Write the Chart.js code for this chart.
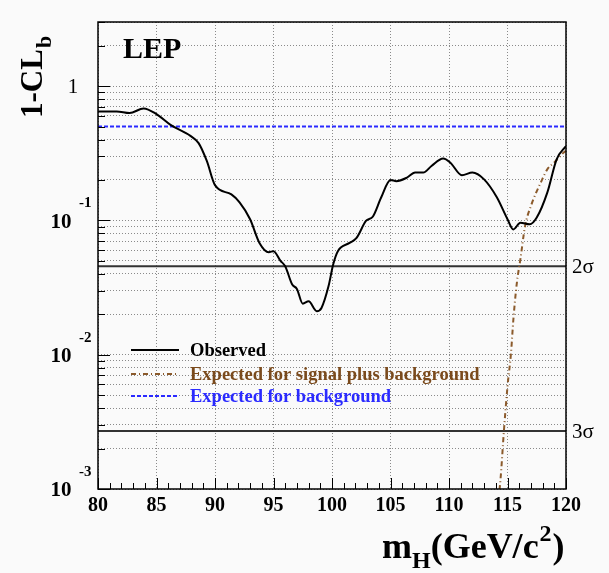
<!DOCTYPE html>
<html>
<head>
<meta charset="utf-8">
<script src="https://cdn.jsdelivr.net/npm/chart.js@4/dist/chart.umd.min.js"></script>
<style>
  html, body { margin: 0; padding: 0; background: #fafafa; }
  #wrap { width: 609px; height: 573px; }
</style>
</head>
<body>
<div id="wrap"><canvas id="chart"></canvas></div>
<script>
// data
const massObs = [80.0, 81.6, 82.7, 83.9, 85.0, 86.2, 87.9, 88.6, 89.3, 90.0, 91.4, 92.1, 93.0, 93.8, 94.6, 95.0,
  95.6, 96.0, 96.6, 97.0, 97.5, 98.0, 98.7, 99.1, 99.7, 100.1, 100.5, 101.5, 102.1, 102.9, 103.5, 104.2, 105.0,
  105.5, 106.4, 107.1, 107.8, 108.5, 109.5, 110.1, 111.1, 112.0, 113.0, 114.1, 115.0, 115.5, 116.1, 116.9,
  117.5, 118.4, 119.2, 120.0];
const clbObs = [0.647, 0.647, 0.629, 0.682, 0.618, 0.514, 0.426, 0.376, 0.277, 0.183, 0.156, 0.136, 0.102, 0.068,
  0.058, 0.059, 0.050, 0.0456, 0.0333, 0.0309, 0.0240, 0.0250, 0.0211, 0.0223, 0.0323, 0.047, 0.059, 0.068,
  0.074, 0.099, 0.107, 0.148, 0.200, 0.196, 0.208, 0.227, 0.227, 0.254, 0.289, 0.270, 0.217, 0.227, 0.202,
  0.148, 0.102, 0.0857, 0.0961, 0.0934, 0.105, 0.161, 0.285, 0.358];

const massSB = [114.2, 114.4, 114.7, 115.0, 115.3, 115.5, 115.8, 116.1, 116.5, 117.0, 117.9, 118.4, 119.0, 119.8, 120.0];
const clbSB = [0.0008, 0.00117, 0.00276, 0.0058, 0.0103, 0.0182, 0.0343, 0.0512, 0.0906, 0.128, 0.196, 0.240, 0.27, 0.32, 0.33];

const clbBkg = 0.5;
const sigmaLevels = [0.0455, 0.0027];
const sigmaLabels = ['2σ', '3σ'];

const xTickLabels = [80, 85, 90, 95, 100, 105, 110, 115, 120];
const yDecades = [0.001, 0.01, 0.1, 1];
const yDecadeLabels = [['10', '-3'], ['10', '-2'], ['10', '-1'], ['1', '']];

const legendLabels = ['Observed', 'Expected for signal plus background', 'Expected for background'];

const SERIF = '"Liberation Serif", "DejaVu Serif", serif';
const BROWN = '#8b5a2b';
const BLUE = '#2a2aff';

function pts(xs, ys) { return xs.map((x, i) => ({ x: x, y: ys[i] })); }
function flat(v) { return [{ x: 80, y: v }, { x: 120, y: v }]; }

// y tick positions: 1..9 x each decade, up to 3
const yTickValues = [];
yDecades.forEach(d => { for (let k = 1; k <= 9; k++) { if (k * d <= 3.0001) yTickValues.push(k * d); } });

const decor = {
  id: 'decor',
  afterDraw(chart) {
    const ctx = chart.ctx;
    const a = chart.chartArea;
    const xs = chart.scales.x, ys = chart.scales.y;
    ctx.save();

    // frame
    ctx.strokeStyle = '#000';
    ctx.lineWidth = 1.5;
    ctx.strokeRect(a.left, a.top, a.right - a.left, a.bottom - a.top);

    // x tick marks (inward)
    ctx.lineWidth = 1;
    for (let m = 80; m <= 120; m++) {
      const px = Math.round(xs.getPixelForValue(m)) + 0.5;
      const len = m % 5 === 0 ? 11 : 6;
      ctx.beginPath(); ctx.moveTo(px, a.bottom); ctx.lineTo(px, a.bottom - len); ctx.stroke();
    }
    // y tick marks (inward)
    yTickValues.forEach(v => {
      const py = Math.round(ys.getPixelForValue(v)) + 0.5;
      const len = yDecades.includes(v) ? 12 : 7;
      ctx.beginPath(); ctx.moveTo(a.left, py); ctx.lineTo(a.left + len, py); ctx.stroke();
    });

    ctx.fillStyle = '#000';
    // x tick labels
    ctx.font = 'bold 20px ' + SERIF;
    ctx.textAlign = 'center';
    ctx.textBaseline = 'alphabetic';
    xTickLabels.forEach(m => ctx.fillText(String(m), xs.getPixelForValue(m), 511));

    // y tick labels
    yDecades.forEach((d, i) => {
      const py = ys.getPixelForValue(d);
      const [base, exp] = yDecadeLabels[i];
      ctx.textBaseline = 'middle';
      if (exp === '') {
        ctx.font = '21px ' + SERIF;
        ctx.textAlign = 'center';
        ctx.fillText(base, 73, py + 1);
      } else {
        ctx.font = 'bold 21px ' + SERIF;
        ctx.textAlign = 'center';
        ctx.fillText(base, 61, py + 2);
        ctx.font = 'bold 15px ' + SERIF;
        ctx.textAlign = 'left';
        ctx.fillText(exp, 79, py - 17);
      }
    });

    // sigma labels
    ctx.font = '21px ' + SERIF;
    ctx.textAlign = 'left';
    ctx.textBaseline = 'middle';
    sigmaLevels.forEach((v, i) => ctx.fillText(sigmaLabels[i], a.right + 6, ys.getPixelForValue(v) + 1));

    // LEP label
    ctx.font = 'bold 30px ' + SERIF;
    ctx.textBaseline = 'alphabetic';
    ctx.fillText('LEP', 123, 58);

    // x title: m_H(GeV/c^2)
    let x = 382;
    const yb = 558;
    ctx.font = 'bold 36px ' + SERIF;
    ctx.fillText('m', x, yb); x += ctx.measureText('m').width;
    ctx.font = 'bold 24px ' + SERIF;
    ctx.fillText('H', x, yb + 10); x += ctx.measureText('H').width;
    ctx.font = 'bold 36px ' + SERIF;
    ctx.fillText('(GeV/c', x, yb); x += ctx.measureText('(GeV/c').width;
    ctx.font = 'bold 24px ' + SERIF;
    ctx.fillText('2', x + 1, yb - 17); x += ctx.measureText('2').width + 2;
    ctx.font = 'bold 36px ' + SERIF;
    ctx.fillText(')', x, yb);

    // y title: 1-CL_b rotated
    ctx.save();
    ctx.translate(42, 118);
    ctx.rotate(-Math.PI / 2);
    ctx.font = 'bold 31px ' + SERIF;
    ctx.fillText('1-CL', 0, 0);
    const w = ctx.measureText('1-CL').width;
    ctx.font = 'bold 22px ' + SERIF;
    ctx.fillText('b', w + 1, 9);
    ctx.restore();

    // legend
    const rows = [350, 374, 396];
    const textColors = ['#000', '#7a4a1c', BLUE];
    chart.data.datasets.slice(0, 3).forEach((ds, i) => {
      const y = rows[i];
      ctx.strokeStyle = ds.borderColor;
      ctx.lineWidth = ds.borderWidth;
      ctx.setLineDash(ds.borderDash || []);
      ctx.beginPath(); ctx.moveTo(131, y); ctx.lineTo(179, y); ctx.stroke();
      ctx.setLineDash([]);
      ctx.fillStyle = textColors[i];
      ctx.font = 'bold 18.5px ' + SERIF;
      ctx.textBaseline = 'middle';
      ctx.fillText(legendLabels[i], 190, y + 1);
    });

    ctx.restore();
  }
};

new Chart(document.getElementById('chart'), {
  type: 'line',
  data: {
    datasets: [
      { data: pts(massObs, clbObs), borderColor: '#000', borderWidth: 2, pointRadius: 0, cubicInterpolationMode: 'monotone' },
      { data: pts(massSB, clbSB), borderColor: BROWN, borderWidth: 2, borderDash: [5, 3, 1, 3], pointRadius: 0, cubicInterpolationMode: 'monotone' },
      { data: flat(clbBkg), borderColor: BLUE, borderWidth: 2, borderDash: [4, 2], pointRadius: 0 },
      { data: flat(sigmaLevels[0]), borderColor: '#333', borderWidth: 2, pointRadius: 0 },
      { data: flat(sigmaLevels[1]), borderColor: '#333', borderWidth: 2, pointRadius: 0 }
    ]
  },
  options: {
    responsive: true,
    maintainAspectRatio: false,
    animation: false,
    layout: { padding: { left: 98, right: 43, top: 22, bottom: 84 } },
    plugins: { legend: { display: false }, tooltip: { enabled: false } },
    scales: {
      x: {
        type: 'linear', min: 80, max: 120,
        ticks: { display: false, stepSize: 5 },
        grid: { color: '#8a8a8a', lineWidth: 1, drawTicks: false },
        border: { display: false, dash: [1, 2] }
      },
      y: {
        type: 'logarithmic', min: 0.001, max: 3,
        afterBuildTicks: scale => { scale.ticks = yTickValues.map(v => ({ value: v })); },
        ticks: { display: false },
        grid: { color: '#8a8a8a', lineWidth: 1, drawTicks: false },
        border: { display: false, dash: [1, 2] }
      }
    }
  },
  plugins: [decor]
});
</script>
</body>
</html>
